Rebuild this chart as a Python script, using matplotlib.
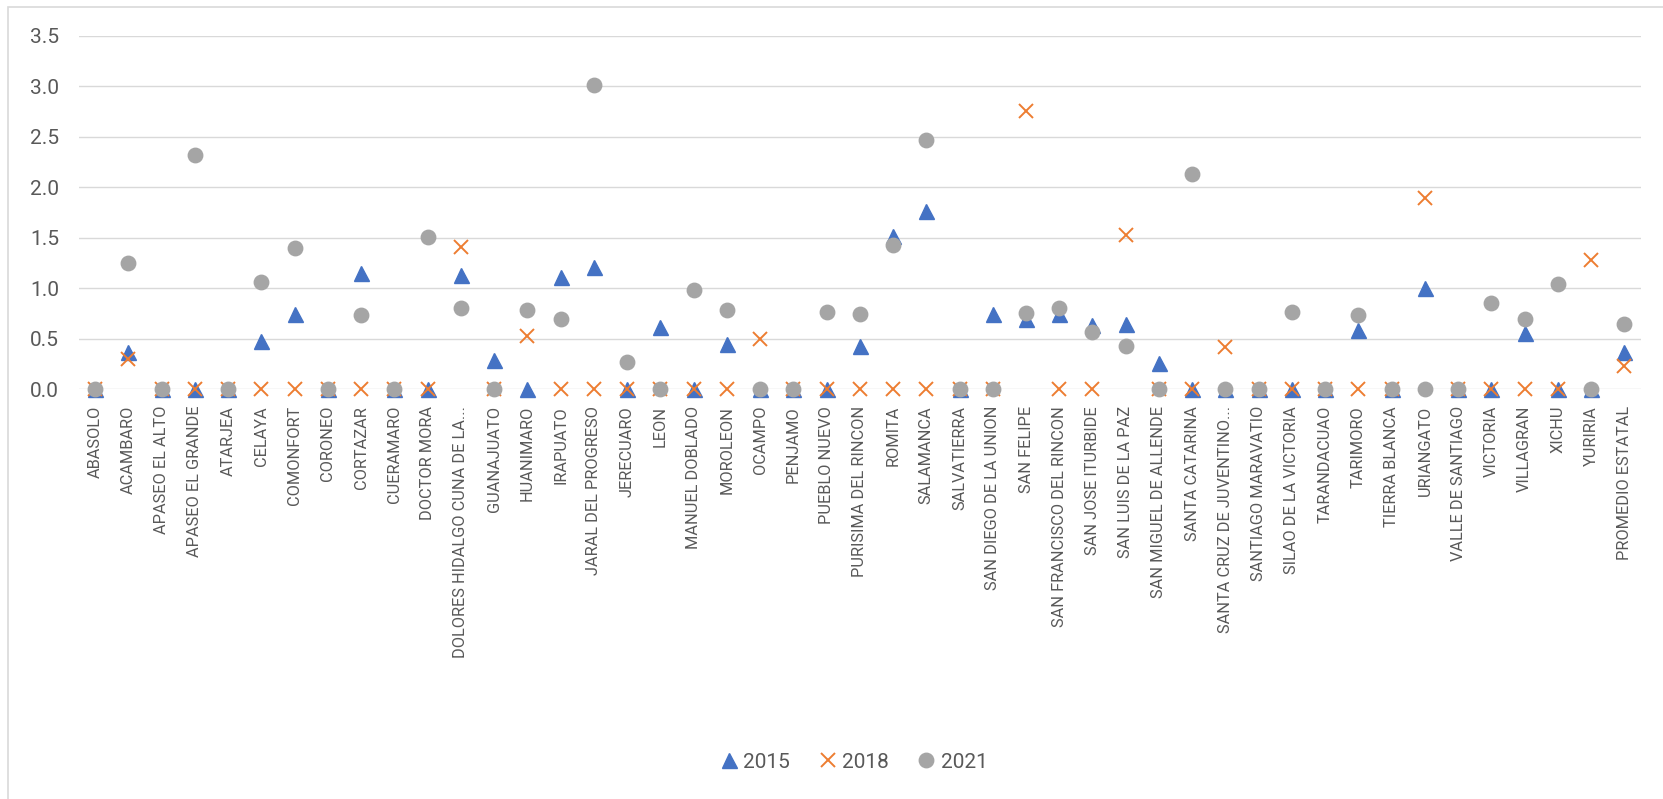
import numpy as np
import matplotlib.pyplot as plt
from matplotlib import font_manager
from matplotlib.patches import Rectangle
from matplotlib.textpath import TextPath
from matplotlib.font_manager import FontProperties

municipios = ["ABASOLO", "ACAMBARO", "APASEO EL ALTO", "APASEO EL GRANDE", "ATARJEA",
              "CELAYA", "COMONFORT", "CORONEO", "CORTAZAR", "CUERAMARO", "DOCTOR MORA",
              "DOLORES HIDALGO CUNA DE LA...", "GUANAJUATO", "HUANIMARO", "IRAPUATO",
              "JARAL DEL PROGRESO", "JERECUARO", "LEON", "MANUEL DOBLADO", "MOROLEON",
              "OCAMPO", "PENJAMO", "PUEBLO NUEVO", "PURISIMA DEL RINCON", "ROMITA",
              "SALAMANCA", "SALVATIERRA", "SAN DIEGO DE LA UNION", "SAN FELIPE",
              "SAN FRANCISCO DEL RINCON", "SAN JOSE ITURBIDE", "SAN LUIS DE LA PAZ",
              "SAN MIGUEL DE ALLENDE", "SANTA CATARINA", "SANTA CRUZ DE JUVENTINO...",
              "SANTIAGO MARAVATIO", "SILAO DE LA VICTORIA", "TARANDACUAO", "TARIMORO",
              "TIERRA BLANCA", "URIANGATO", "VALLE DE SANTIAGO", "VICTORIA", "VILLAGRAN",
              "XICHU", "YURIRIA", "PROMEDIO ESTATAL"]

v2015 = [0, 0.37, 0, 0, 0, 0.48, 0.75, 0, 1.15, 0, 0,
         1.13, 0.29, 0, 1.11, 1.21, 0, 0.62, 0, 0.45,
         0, 0, 0, 0.43, 1.52, 1.76, 0, 0.75, 0.70,
         0.75, 0.64, 0.65, 0.26, 0, 0, 0, 0, 0, 0.59,
         0, 1.00, 0, 0, 0.56, 0, 0, 0.37]

v2018 = [0, 0.30, 0, 0, 0, 0, 0, 0, 0, 0, 0,
         1.41, 0, 0.53, 0, 0, 0, 0, 0, 0,
         0.50, 0, 0, 0, 0, 0, 0, 0, 2.75,
         0, 0, 1.53, 0, 0, 0.42, 0, 0, 0, 0,
         0, 1.89, 0, 0, 0, 0, 1.28, 0.23]

v2021 = [0, 1.25, 0, 2.32, 0, 1.06, 1.40, 0, 0.74, 0, 1.51,
         0.80, 0, 0.78, 0.70, 3.01, 0.27, 0, 0.98, 0.78,
         0, 0, 0.77, 0.75, 1.43, 2.47, 0, 0, 0.76,
         0.80, 0.57, 0.43, 0, 2.13, 0, 0, 0.77, 0, 0.74,
         0, 0, 0, 0.85, 0.70, 1.04, 0, 0.65]

# pick the installed sans whose letters are tallest for the label length seen
target_len = 250.0  # px, length of the longest label in the reference
best = None
for name in ['Liberation Sans Narrow', 'Lato', 'Roboto', 'Liberation Sans']:
    try:
        font_manager.findfont(name, fallback_to_default=False)
    except Exception:
        continue
    fp = FontProperties(family=name, size=10)
    w = TextPath((0, 0), "DOLORES HIDALGO CUNA DE LA...", prop=fp).get_extents().width
    cap = TextPath((0, 0), "H", prop=fp).get_extents().height
    size = 10 * (target_len / 1.389) / w
    if best is None or cap * size > best[2]:
        best = (name, size, cap * size)
fam, fs = best[0], best[1]
plt.rcParams['font.family'] = [fam, 'DejaVu Sans']

W, H = 1663, 799
fig = plt.figure(figsize=(W / 100, H / 100), dpi=100)

# light chart border
fig.patches.append(Rectangle((7.5 / W, -0.02), 1.05, 1 - 7 / H + 0.02,
                             transform=fig.transFigure, fill=False,
                             edgecolor='#d9d9d9', linewidth=1.2))

ax = fig.add_axes([78.6 / W, 1 - 389.3 / H, (1641 - 78.6) / W, (389.3 - 35.7) / H])
x = np.arange(len(municipios))

ax.plot(x, v2015, linestyle='none', marker='^', markersize=10.8,
        color='#4472C4', label='2015', clip_on=False, zorder=3)
ax.plot(x, v2018, linestyle='none', marker='x', markersize=9.5,
        markeredgewidth=1.4, color='#ED7D31', label='2018', clip_on=False, zorder=4)
ax.plot(x, v2021, linestyle='none', marker='o', markersize=10.4,
        color='#A5A5A5', label='2021', clip_on=False, zorder=5)

ax.set_xlim(-0.5, len(municipios) - 0.5)
ax.set_ylim(0, 3.5)
ax.set_yticks(np.arange(0, 3.51, 0.5))
ax.set_yticklabels([f"{t:.1f}" for t in np.arange(0, 3.51, 0.5)])
ax.set_xticks(x)
ax.set_xticklabels(municipios, rotation=90, ha='center', va='top')

ax.grid(axis='y', color='#d9d9d9', linewidth=1.0)
ax.set_axisbelow(True)
for s in ax.spines.values():
    s.set_visible(False)
ax.tick_params(axis='both', length=0, colors='#595959')
ax.tick_params(axis='x', pad=12, labelsize=fs)
ax.tick_params(axis='y', pad=14, labelsize=15)

leg = ax.legend(loc='center', bbox_to_anchor=(0.495, (389.3 - 762) / (389.3 - 35.7)),
                ncol=3, frameon=False, fontsize=15, handletextpad=0.1,
                columnspacing=1.2, handlelength=1.2)
for t in leg.get_texts():
    t.set_color('#595959')

fig.savefig('out.png', dpi=100)
